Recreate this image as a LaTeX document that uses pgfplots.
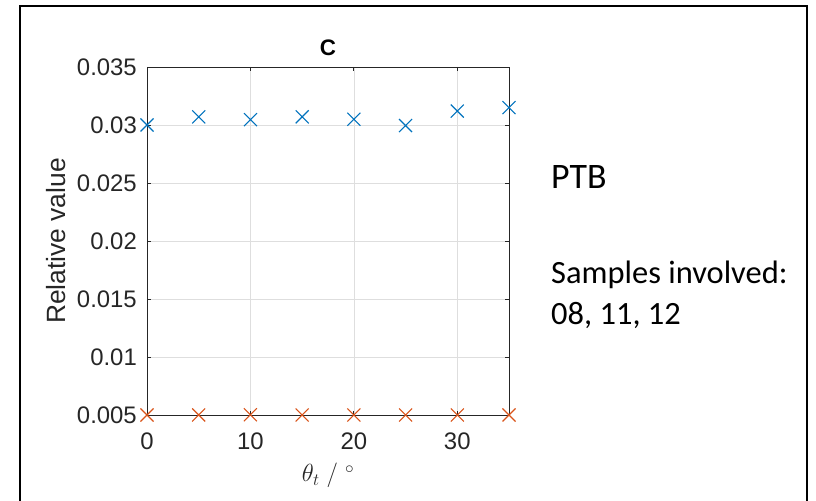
\documentclass[border=0pt]{standalone}
\usepackage{pgfplots}
\pgfplotsset{compat=1.18}
\usepackage{fontspec}
\setmainfont{Liberation Sans}
\newfontfamily\carlito{Carlito}
\definecolor{mblue}{rgb}{0,0.447,0.741}
\definecolor{morange}{rgb}{0.85,0.325,0.098}
\definecolor{mgray}{rgb}{0.15,0.15,0.15}
\begin{document}
\begin{tikzpicture}[x=1bp,y=1bp]
\draw[line width=2.5bp] (20,-3) -- (20,495) -- (807,495) -- (807,-3);
\begin{axis}[
  at={(147bp,86bp)}, anchor=south west,
  scale only axis, width=362bp, height=348bp,
  xmin=0, xmax=35, ymin=0.005, ymax=0.035,
  xtick={0,10,20,30}, xticklabels={0,10,20,30},
  ytick={0.005,0.01,0.015,0.02,0.025,0.03,0.035},
  yticklabels={0.005,0.01,0.015,0.02,0.025,0.03,0.035},
  scaled y ticks=false,
  tick align=inside, major tick length=4bp,
  grid=major, major grid style={color=black!13, line width=0.7bp},
  axis line style={mgray, line width=0.8bp},
  tick style={mgray, line width=0.8bp},
  ticklabel style={font=\fontsize{24}{28}\selectfont, text=mgray},
  yticklabel style={anchor=east, inner sep=0pt, xshift=-10bp},
  xticklabel style={anchor=north, inner sep=0pt, yshift=-18bp},
  title={C},
  title style={font=\fontsize{22.5}{24}\selectfont\bfseries, at={(0.5,1)}, anchor=base, yshift=6bp, inner sep=0pt},
  xlabel={$\theta_t\ /\ ^\circ$},
  xlabel style={font=\fontsize{25}{28}\selectfont, text=mgray, at={(0.5,0)}, anchor=base, yshift=-67bp, inner sep=0pt},
  ylabel={Relative value},
  ylabel style={font=\fontsize{26.5}{30}\selectfont, text=mgray, at={(-0.252,0.5)}, anchor=center, inner sep=0pt},
  clip=false,
]
\addplot[only marks, mark=x, mark size=9.2bp, mblue, line width=1.1bp] coordinates {
  (0,0.0300) (5,0.0307) (10,0.03046) (15,0.0307) (20,0.0305) (25,0.02995) (30,0.0312) (35,0.0315)
};
\addplot[only marks, mark=x, mark size=9.2bp, morange, line width=1.1bp] coordinates {
  (0,0.0050) (5,0.0050) (10,0.00502) (15,0.0050) (20,0.0050) (25,0.0050) (30,0.0050) (35,0.0050)
};
\end{axis}
\node[anchor=base west, inner sep=0pt, font=\carlito\fontsize{36}{40}\selectfont] at (551,312) {PTB};
\node[anchor=base west, inner sep=0pt, font=\carlito\fontsize{32.6}{40}\selectfont] at (551,217) {Samples involved:};
\node[anchor=base west, inner sep=0pt, font=\carlito\fontsize{32.6}{40}\selectfont] at (551,176) {08, 11, 12};
\pgfresetboundingbox
\path[use as bounding box] (0,0) rectangle (816,501);
\end{tikzpicture}
\end{document}
